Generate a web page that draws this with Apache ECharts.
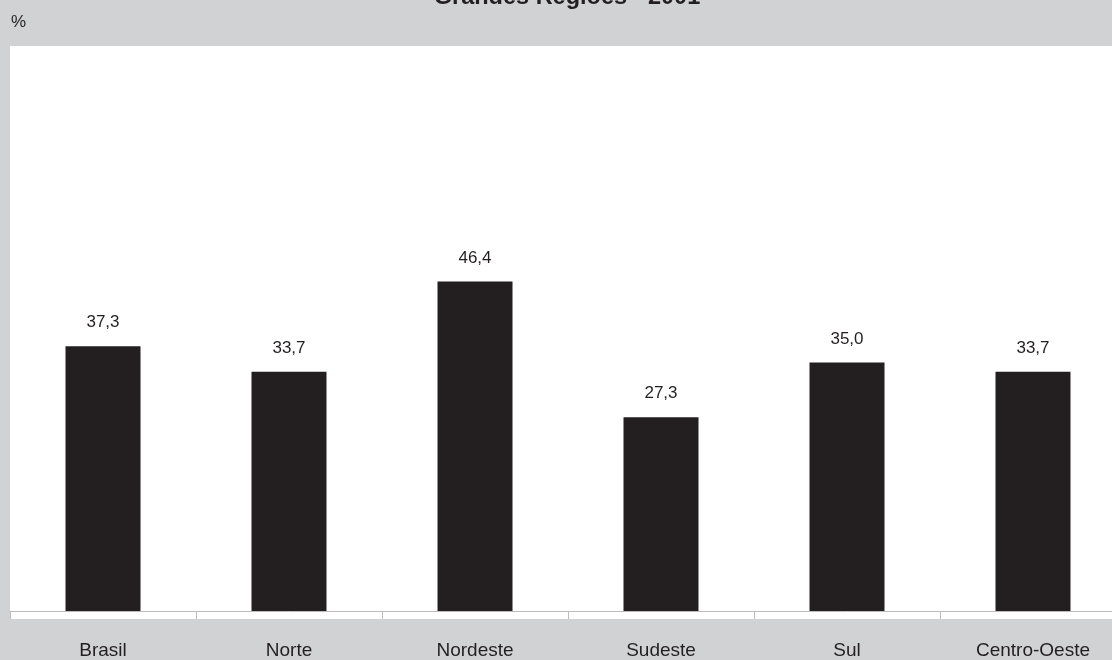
<!DOCTYPE html>
<html>
<head>
<meta charset="utf-8">
<script src="https://cdn.jsdelivr.net/npm/echarts@6/dist/echarts.min.js"></script>
<style>
html,body{margin:0;padding:0;background:#d1d2d4;overflow:hidden;width:1112px;height:660px;}
#chart{width:1126px;height:660px;}
</style>
</head>
<body>
<div id="chart"></div>
<script>
const titleText = 'Grandes Regiões - 2001';
const unitLabel = '%';
const categories = ['Brasil', 'Norte', 'Nordeste', 'Sudeste', 'Sul', 'Centro-Oeste'];
const values = [37.3, 33.7, 46.4, 27.3, 35.0, 33.7];

const chart = echarts.init(document.getElementById('chart'), null, {renderer: 'canvas'});
const font = "'Liberation Sans', Arial, sans-serif";
chart.setOption({
  backgroundColor: '#d1d2d4',
  animation: false,
  graphic: [
    {type: 'rect', z: -10, silent: true, shape: {x: 10, y: 46, width: 1116, height: 573}, style: {fill: '#ffffff'}},
    {type: 'text', z: 10, x: 567, y: -14, style: {text: titleText, textAlign: 'center', fontFamily: font, fontWeight: 'bold', fontSize: 23.5, fill: '#231f20'}},
    {type: 'text', z: 10, left: 11, top: 14, style: {text: unitLabel, fontFamily: font, fontSize: 17, fill: '#231f20'}}
  ],
  grid: {left: 10, right: 0, top: 43, bottom: 49, containLabel: false},
  xAxis: {
    type: 'category',
    data: categories,
    boundaryGap: true,
    axisLine: {show: true, lineStyle: {color: '#bdbdbd', width: 1}},
    axisTick: {show: true, inside: false, length: 8, lineStyle: {color: '#bdbdbd'}, alignWithLabel: false},
    axisLabel: {margin: 30, fontFamily: font, fontSize: 19, color: '#231f20'}
  },
  yAxis: {
    type: 'value', min: 0, max: 80, interval: 10, show: false,
    splitLine: {show: false}
  },
  series: [{
    type: 'bar',
    data: values,
    barWidth: 75,
    itemStyle: {color: '#231f20'},
    label: {
      show: true, position: 'top', distance: 15,
      fontFamily: font, fontSize: 17, color: '#231f20',
      formatter: p => p.value.toFixed(1).replace('.', ',')
    }
  }]
});
</script>
</body>
</html>
